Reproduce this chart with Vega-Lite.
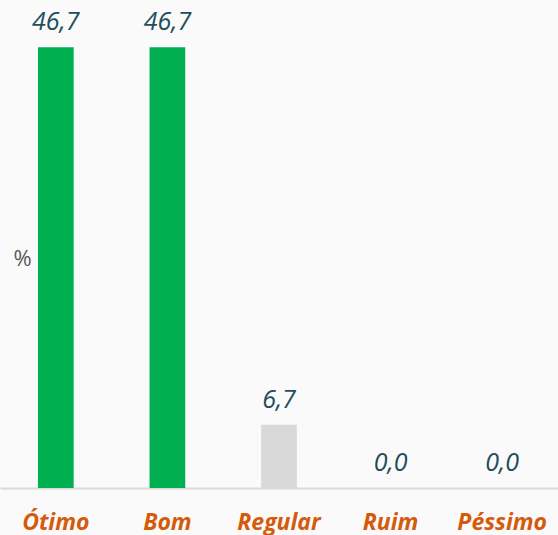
{
  "$schema": "https://vega.github.io/schema/vega-lite/v6.json",
  "width": 558,
  "height": 488,
  "padding": {"left": 0, "top": 0, "right": 0, "bottom": 47},
  "autosize": "none",
  "background": "#fafafa",
  "config": {"view": {"stroke": null},
    "locale": {"number": {"decimal": ",", "thousands": ".", "grouping": [3], "currency": ["R$", ""]}}},
  "data": {"values": [
    {"cat": "Ótimo", "val": 46.7, "grp": "pos"},
    {"cat": "Bom", "val": 46.7, "grp": "pos"},
    {"cat": "Regular", "val": 6.7, "grp": "mid"},
    {"cat": "Ruim", "val": 0.0, "grp": "neg"},
    {"cat": "Péssimo", "val": 0.0, "grp": "neg"}
  ]},
  "encoding": {
    "x": {"field": "cat", "type": "nominal", "sort": null,
      "scale": {"paddingInner": 0.68, "paddingOuter": 0.34},
      "axis": {"title": null, "ticks": false, "labelAngle": 0, "domainColor": "#d9d9d9", "domainWidth": 2,
        "labelFont": "Open Sans", "labelFontSize": 23, "labelFontWeight": "bold", "labelFontStyle": "italic",
        "labelColor": "#d55a0c", "labelPadding": 34, "labelBaseline": "middle", "labelLimit": 200}},
    "y": {"field": "val", "type": "quantitative", "scale": {"domain": [0, 51.7]},
      "axis": {"title": "%", "titleAngle": 0, "titleX": 22, "titleY": 258, "titleAlign": "center", "titleBaseline": "middle",
        "titleFont": "Open Sans", "titleFontSize": 22, "titleFontWeight": "normal", "titleColor": "#595959",
        "labels": false, "ticks": false, "domain": false, "grid": false}}
  },
  "layer": [
    {"mark": {"type": "bar"},
     "encoding": {"color": {"field": "grp", "type": "nominal", "legend": null,
       "scale": {"domain": ["pos", "mid", "neg"], "range": ["#00b050", "#d9d9d9", "#c00000"]}}}},
    {"mark": {"type": "text", "dy": -25, "font": "Open Sans", "fontSize": 25, "fontStyle": "italic", "color": "#1f4e5a", "baseline": "middle"},
     "encoding": {"text": {"field": "val", "type": "quantitative", "format": ".1f"}}}
  ]
}
